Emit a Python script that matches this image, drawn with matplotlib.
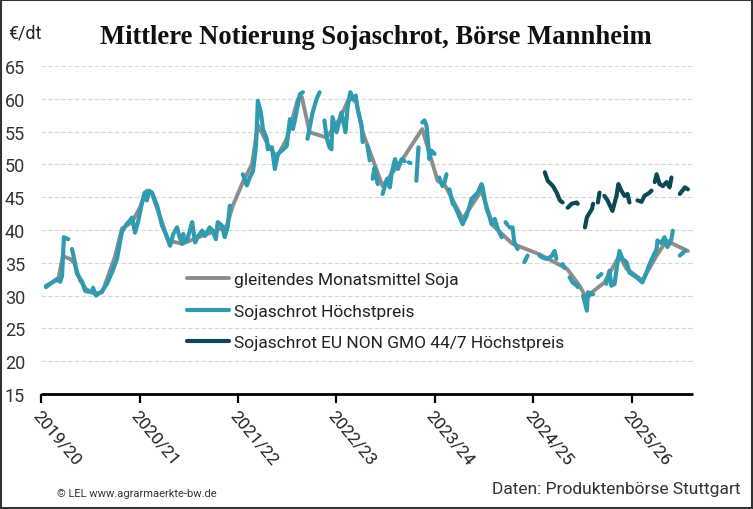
import numpy as np
import pandas as pd
import matplotlib.pyplot as plt
from matplotlib.patches import Rectangle

plt.rcParams['font.family'] = ['Roboto', 'DejaVu Sans']

nan = np.nan

# gleitendes Monatsmittel Soja
avg_dates = ["2019-07-19", "2019-09-03", "2019-09-20", "2019-10-17", "2019-11-01", "2019-11-23",
             "2019-12-15", "2020-01-17", "2020-02-13", "2020-03-06", "2020-04-01", "2020-04-26",
             "2020-06-03", "2020-07-03", "2020-07-28", "2020-08-16", "2020-09-22", "2020-10-15",
             "2020-12-06", "2021-02-11", "2021-04-06", "2021-05-20", "2021-06-12", "2021-07-19",
             "2021-08-22", "2021-09-13", "2021-10-20", "2021-11-22", "2021-12-29", "2022-02-09",
             "2022-02-23", "2022-03-24", "2022-05-26", "2022-07-13", "2022-08-19", "2022-09-14",
             "2022-10-07", "2022-12-20", "2023-03-12", "2023-05-16", "2023-07-12", "2023-08-10",
             "2023-10-13", "2023-12-22", "2024-02-02", "2024-04-15", "2024-07-24", "2024-11-03",
             "2024-12-20", "2025-01-16", "2025-02-04", "2025-03-22", "2025-05-17", "2025-06-12",
             "2025-08-10", "2025-10-02", "2025-11-08", "2025-12-01", "2026-01-26"]
avg_vals = [31.5, 32.5, 36.0, 35.6, 35.0, 32.3,
            31.0, 30.3, 30.5, 33.0, 36.0, 40.2,
            41.2, 43.5, 46.0, 45.5, 41.2, 38.4,
            37.9, 39.0, 39.8, 40.6, 43.7, 47.3,
            50.0, 56.0, 53.0, 51.1, 53.9, 60.0,
            60.3, 54.9, 54.1, 56.9, 60.2, 59.5,
            54.9, 46.7, 51.3, 55.4, 47.5, 46.7,
            41.7, 46.0, 40.7, 37.9, 36.3, 34.1,
            31.5, 29.5, 30.5, 32.0, 36.1, 34.1,
            32.3, 36.1, 38.4, 37.9, 36.8]

# Sojaschrot Höchstpreis (nan = keine Notierung)
hp_dates = ["2019-07-19", "2019-08-11", "2019-08-28", "2019-09-10", "2019-09-17", "2019-09-24", "2019-10-10", "2019-10-17",
            "2019-10-24", "2019-11-01", "2019-11-12", "2019-12-01", "2019-12-12", "2020-01-07", "2020-01-10", "2020-01-21",
            "2020-02-13", "2020-03-02", "2020-03-20", "2020-04-08", "2020-04-26", "2020-05-14", "2020-05-25", "2020-06-03",
            "2020-06-14", "2020-06-25", "2020-07-09", "2020-07-20", "2020-07-28", "2020-08-05", "2020-08-16", "2020-09-04",
            "2020-09-22", "2020-10-11", "2020-10-22", "2020-11-03", "2020-11-17", "2020-11-25", "2020-12-06", "2020-12-10",
            "2020-12-13", "2020-12-24", "2021-01-12", "2021-01-23", "2021-02-04", "2021-02-18", "2021-03-01", "2021-03-18",
            "2021-03-29", "2021-04-10", "2021-04-17", "2021-05-02", "2021-05-13", "2021-05-24", "2021-06-01", "2021-07-10",
            "2021-07-19", "2021-08-03", "2021-08-14", "2021-08-26", "2021-09-06", "2021-09-13", "2021-09-24", "2021-10-02",
            "2021-10-16", "2021-10-20", "2021-11-04", "2021-11-15", "2021-11-26", "2021-12-11", "2021-12-29", "2022-01-10",
            "2022-01-21", "2022-01-28", "2022-02-09", "2022-02-16", "2022-02-27", "2022-03-06",
            "2022-03-16", "2022-04-04", "2022-04-19", "2022-04-30", "2022-05-08",
            "2022-05-18", "2022-05-26", "2022-06-06", "2022-06-13", "2022-06-17", "2022-07-02", "2022-07-20", "2022-08-04",
            "2022-08-12", "2022-08-22", "2022-09-01", "2022-09-11", "2022-09-18", "2022-10-03", "2022-10-07", "2022-10-15",
            "2022-10-25", "2022-11-02", "2022-11-08",
            "2022-11-13", "2022-11-20", "2022-12-02", "2022-12-10",
            "2022-12-20", "2023-01-05", "2023-01-16", "2023-01-23", "2023-02-04", "2023-02-15", "2023-03-01", "2023-03-12", "2023-03-20",
            "2023-03-27", "2023-04-02", "2023-04-14",
            "2023-04-24", "2023-05-02", "2023-05-09",
            "2023-05-16", "2023-05-24", "2023-06-01", "2023-06-12", "2023-06-19", "2023-07-01", "2023-07-10",
            "2023-07-18", "2023-07-30", "2023-08-07", "2023-08-14", "2023-08-20",
            "2023-08-25", "2023-09-06", "2023-09-13", "2023-09-24", "2023-10-13", "2023-10-28", "2023-11-15", "2023-11-26",
            "2023-12-08", "2023-12-22", "2023-12-26", "2024-01-10", "2024-01-21", "2024-01-28", "2024-02-03",
            "2024-02-09", "2024-02-20", "2024-03-06", "2024-03-13",
            "2024-03-20", "2024-03-27", "2024-03-31",
            "2024-04-04", "2024-04-15", "2024-04-22", "2024-05-04", "2024-05-15",
            "2024-05-29", "2024-06-10", "2024-07-01",
            "2024-07-24", "2024-08-05", "2024-08-19", "2024-09-07", "2024-09-18", "2024-09-25", "2024-10-05",
            "2024-10-18", "2024-10-26", "2024-11-05",
            "2024-11-13", "2024-11-24", "2024-12-10", "2024-12-13", "2024-12-25",
            "2025-01-02", "2025-01-16", "2025-01-20", "2025-02-08", "2025-02-17",
            "2025-02-26", "2025-03-11", "2025-03-20",
            "2025-03-29", "2025-04-10", "2025-04-17", "2025-04-29", "2025-05-06", "2025-05-17", "2025-05-28", "2025-06-12",
            "2025-06-23", "2025-07-19", "2025-08-10", "2025-08-25", "2025-09-06", "2025-09-17", "2025-10-02", "2025-10-05",
            "2025-10-20", "2025-10-31", "2025-11-11", "2025-11-26", "2025-12-01", "2025-12-14",
            "2025-12-27", "2026-01-15"]
hp_vals = [31.3, 32.0, 32.5, 32.1, 33.0, 38.9, 38.6, nan,
           37.1, 35.6, 33.3, 32.1, 30.7, 30.5, 31.2, 30.0,
           30.7, 31.8, 33.5, 35.6, 39.7, 40.9, 41.4, 41.9,
           39.6, 41.2, 44.0, 45.7, 44.5, 46.0, 45.7, 43.7,
           40.7, 38.9, 37.6, 39.4, 40.4, 39.1, 37.9, 39.4,
           38.1, 38.4, 41.2, 38.1, 39.1, 39.9, 39.1, 40.4,
           39.9, 38.6, 41.2, 40.7, 38.9, 40.5, 43.7, nan,
           48.5, 46.8, 48.0, 49.0, 52.8, 59.7, 57.9, 55.4,
           53.9, 52.3, 52.6, 49.3, 51.6, 52.1, 52.8, 56.9,
           55.4, 56.7, 59.2, 60.7, 61.0, nan,
           53.9, 57.9, 60.0, 61.0, nan,
           56.7, 54.1, 52.6, 52.3, 57.2, 54.9, 57.9, 54.9,
           58.7, 61.0, 60.0, 60.5, 58.4, 55.9, 53.4, nan,
           52.8, 50.6, nan,
           47.8, 49.5, 47.0, nan,
           45.5, 47.8, 46.5, 48.8, 50.8, 49.3, 50.8, 50.5, nan,
           50.3, 50.2, nan,
           47.5, 52.6, nan,
           56.4, 56.7, 55.9, 50.8, 52.1, 51.6, nan,
           48.0, 46.7, 47.3, 48.5, nan,
           46.2, 44.0, 43.7, 42.7, 40.9, 42.2, 44.7, 45.2,
           45.7, 47.0, 46.5, 43.2, 42.0, 40.9, nan,
           41.7, 40.2, 38.9, nan,
           41.2, 40.8, nan,
           40.4, 40.4, 38.1, 37.1, nan,
           35.1, 36.1, nan,
           36.1, 35.8, 35.6, 36.0, 36.8, 35.6, nan,
           34.8, 34.2, nan,
           32.8, 32.0, 31.5, 31.3, nan,
           30.0, 27.7, 30.5, 30.2, nan,
           32.8, 33.3, nan,
           31.8, 33.8, 31.5, 31.8, 34.0, 36.8, 35.6, 35.1,
           33.5, 32.8, 32.0, 33.5, 34.8, 35.8, 37.1, 38.4,
           38.0, 38.9, 37.4, 38.6, 39.9, nan,
           36.1, 36.8]

# Sojaschrot EU NON GMO 44/7 Höchstpreis
gmo_dates = ["2024-08-13", "2024-08-24", "2024-09-12", "2024-09-26", "2024-10-08", "2024-10-18", "2024-10-28",
             "2024-11-06", "2024-11-21", "2024-12-10", "2024-12-13", "2024-12-30",
             "2025-01-09", "2025-01-16", "2025-01-20", "2025-02-04", "2025-02-08", "2025-02-17",
             "2025-02-26", "2025-03-04", "2025-03-14",
             "2025-03-22", "2025-04-03", "2025-04-21", "2025-05-06", "2025-05-13", "2025-05-24", "2025-06-05",
             "2025-06-16", "2025-06-23", "2025-07-10",
             "2025-07-23", "2025-08-07", "2025-08-18", "2025-09-06", "2025-09-13", "2025-09-19",
             "2025-09-25", "2025-10-02", "2025-10-13", "2025-10-25", "2025-11-08", "2025-11-19", "2025-11-26", "2025-12-10",
             "2025-12-27", "2026-01-15", "2026-01-26"]
gmo_vals = [48.8, 47.5, 46.7, 45.7, 44.5, 44.2, nan,
            43.4, 44.0, 44.2, 44.0, nan,
            40.4, 41.9, 42.2, 43.2, 44.0, nan,
            44.2, 45.7, nan,
            45.2, 44.5, 42.9, 45.2, 47.0, 46.0, 45.2,
            45.5, 44.2, nan,
            44.5, 44.3, 45.2, 45.7, 46.0, nan,
            47.3, 48.5, 47.0, 46.7, 47.3, 46.5, 48.0, nan,
            45.5, 46.5, 46.2]

season_starts = ["2019-07-01", "2020-07-01", "2021-07-01", "2022-07-01",
                 "2023-07-01", "2024-07-01", "2025-07-01"]
season_labels = ["2019/20", "2020/21", "2021/22", "2022/23", "2023/24", "2024/25", "2025/26"]

fig = plt.figure(figsize=(7.53, 5.10), dpi=100)
ax = fig.add_axes([41 / 753, 1 - 395 / 510, (693 - 41) / 753, (395 - 67) / 510])

ax.plot(pd.to_datetime(avg_dates), avg_vals, color='#8f8c8c', lw=2.8,
        solid_capstyle='round', solid_joinstyle='round', label='gleitendes Monatsmittel Soja', zorder=3)
ax.plot(pd.to_datetime(hp_dates), hp_vals, color='#2e9bb0', lw=3.0,
        solid_capstyle='round', solid_joinstyle='round', label='Sojaschrot Höchstpreis', zorder=4)
ax.plot(pd.to_datetime(gmo_dates), gmo_vals, color='#0b4a55', lw=3.0,
        solid_capstyle='round', solid_joinstyle='round',
        label='Sojaschrot EU NON GMO 44/7 Höchstpreis', zorder=5)

ax.set_xlim(pd.Timestamp("2019-07-01"), pd.Timestamp("2026-02-14"))
ax.set_ylim(15, 65)
ax.set_yticks(np.arange(15, 66, 5))
ax.yaxis.grid(True, color='#d6d6d6', ls=(0, (4, 2)), lw=0.8)
ax.set_axisbelow(True)

ax.set_xticks(pd.to_datetime(season_starts))
ax.set_xticklabels(season_labels, rotation=-50, ha='left', va='top',
                   rotation_mode='anchor', fontsize=12.5, color='#222222')
ax.tick_params(axis='x', length=6.5, width=1.6, color='black', pad=3)
ax.tick_params(axis='y', length=0, pad=11.5, labelsize=13, labelcolor='#333333')

for s in ['top', 'right', 'left']:
    ax.spines[s].set_visible(False)
ax.spines['bottom'].set_linewidth(2.0)
ax.spines['bottom'].set_capstyle('butt')

ax.legend(loc='upper left', bbox_to_anchor=(180 / 753, 1 - 266 / 510), bbox_transform=fig.transFigure,
          frameon=False, fontsize=12.5, handlelength=2.4, handletextpad=0.3, labelspacing=0.95,
          labelcolor='#222222', borderaxespad=0)

fig.text(8 / 753, 1 - 34 / 510, '€/dt', fontsize=13, color='#222222', va='center', ha='left')
fig.text(376 / 753, 1 - 37 / 510, 'Mittlere Notierung Sojaschrot, Börse Mannheim',
         fontsize=19.2, fontweight='bold', family='Liberation Serif', ha='center', va='center', color='#111111')
fig.text(740 / 753, 1 - 490 / 510, 'Daten: Produktenbörse Stuttgart', fontsize=12.5, color='#333333',
         ha='right', va='center')
fig.text(57 / 753, 1 - 494 / 510, '© LEL www.agrarmaerkte-bw.de', fontsize=8, color='#333333',
         ha='left', va='center')

fig.patches.append(Rectangle((0.001, 0.001), 0.998, 0.997, transform=fig.transFigure,
                             fill=False, edgecolor='#333333', lw=1.5))

fig.savefig('out.png', dpi=100)
